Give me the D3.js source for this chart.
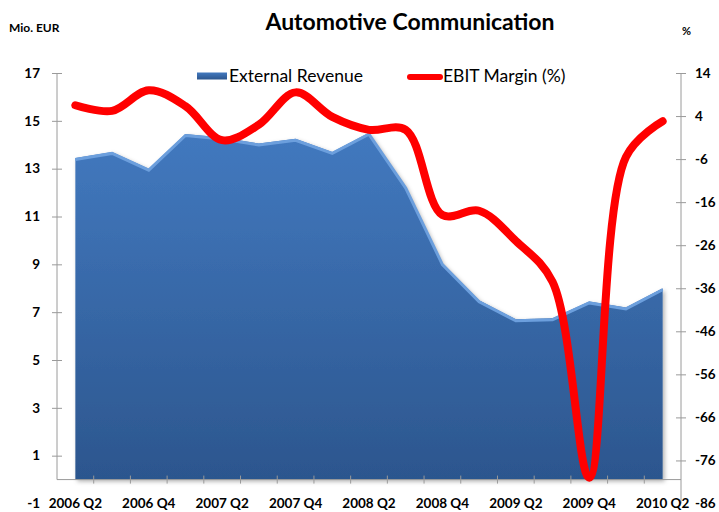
<!DOCTYPE html>
<html>
<head>
<meta charset="utf-8">
<script src="https://cdn.jsdelivr.net/npm/d3@7"></script>
<style>
  body { margin: 0; background: #fff; }
  #graf { width: 719px; height: 512px; }
  text { font-family: Lato, 'Liberation Sans', sans-serif; fill: #000; }
  .tick-lbl { font-size: 13.5px; font-weight: bold; }
</style>
</head>
<body>
<div id="graf"></div>
<script>
// I. Datos

quarters = ['2006 Q2', '2006 Q3', '2006 Q4', '2007 Q1', '2007 Q2', '2007 Q3', '2007 Q4', '2008 Q1',
            '2008 Q2', '2008 Q3', '2008 Q4', '2009 Q1', '2009 Q2', '2009 Q3', '2009 Q4', '2010 Q1', '2010 Q2']

// External Revenue (Mio. EUR)
revenue = [13.45, 13.7, 13.0, 14.45, 14.3, 14.05, 14.25, 13.7, 14.5, 12.25, 9.05, 7.5, 6.7, 6.75, 7.45, 7.2, 8.0]

// EBIT Margin (%)
ebit = [6.5, 5.2, 10.0, 6.3, -1.6, 2.0, 9.5, 3.8, 0.8, 0.8, -19, -18, -25, -34.5, -80, -5.5, 2.8]

leftTicks = [-1, 1, 3, 5, 7, 9, 11, 13, 15, 17]
rightTicks = [-86, -76, -66, -56, -46, -36, -26, -16, -6, 4, 14]

// II. Configuracion

ancho_total = 719
alto_total = 512

svg = d3.select('#graf').append('svg')
        .attr('width', ancho_total)
        .attr('height', alto_total)

plot = { left: 57, right: 681, top: 73, bottom: 503.5 }

x = d3.scaleBand()
        .domain(quarters)
        .range([plot.left, plot.right])

cx = d => x(d) + x.bandwidth() / 2

yL = d3.scaleLinear()
        .domain([-1, 17])
        .range([plot.bottom, plot.top])

yR = d3.scaleLinear()
        .domain([-86, 14])
        .range([plot.bottom, plot.top])

defs = svg.append('defs')
grad = defs.append('linearGradient')
        .attr('id', 'areaGrad')
        .attr('x1', 0).attr('y1', 0).attr('x2', 0).attr('y2', 1)
grad.append('stop').attr('offset', '0%').attr('stop-color', '#4279bf')
grad.append('stop').attr('offset', '100%').attr('stop-color', '#2c568e')

shadow = defs.append('filter').attr('id', 'sombra')
        .attr('x', '-5%').attr('y', '-5%').attr('width', '115%').attr('height', '115%')
shadow.append('feDropShadow')
        .attr('dx', 2).attr('dy', 2).attr('stdDeviation', 2)
        .attr('flood-color', '#000').attr('flood-opacity', 0.3)

// III. Render

data = quarters.map((q, i) => ({ q: q, rev: revenue[i], ebit: ebit[i] }))

area = d3.area()
        .x(d => cx(d.q))
        .y0(yL(0))
        .y1(d => yL(d.rev))

svg.append('path')
        .datum(data)
        .attr('d', area)
        .attr('fill', 'url(#areaGrad)')
        .attr('filter', 'url(#sombra)')

// borde claro de la superficie
svg.append('path')
        .datum(data)
        .attr('d', d3.line().x(d => cx(d.q)).y(d => yL(d.rev) + 1.5))
        .attr('fill', 'none')
        .attr('stroke', '#6c9fdd')
        .attr('stroke-width', 3)

// ejes
axisColor = '#9a9a9a'
fmt = d => String(d)

leftAxis = svg.append('g')
        .attr('transform', `translate(${plot.left}, 0)`)
        .call(d3.axisLeft(yL).tickValues(leftTicks).tickFormat(fmt).tickSize(5).tickPadding(12))
leftAxis.select('.domain').remove()
leftAxis.selectAll('.tick line').attr('x1', -5).attr('x2', 5).attr('stroke', axisColor)
        .filter(d => d === -1).remove()
leftAxis.selectAll('.tick text').attr('class', 'tick-lbl').attr('font-family', null).attr('font-size', null)
leftAxis.append('line')
        .attr('y1', yL(17)).attr('y2', yL(0))
        .attr('stroke', axisColor)

rightAxis = svg.append('g')
        .attr('transform', `translate(${plot.right}, 0)`)
        .call(d3.axisRight(yR).tickValues(rightTicks).tickFormat(fmt).tickSize(5).tickPadding(9))
rightAxis.select('.domain').remove()
rightAxis.selectAll('.tick line').attr('x1', -5).attr('x2', 5).attr('stroke', axisColor)
        .filter(d => d === -86).remove()
rightAxis.selectAll('.tick text').attr('class', 'tick-lbl').attr('font-family', null).attr('font-size', null)
rightAxis.append('line')
        .attr('y1', yR(14)).attr('y2', yR(-86))
        .attr('stroke', axisColor)

xAxis = svg.append('g')
        .attr('transform', `translate(0, ${yL(0)})`)
xAxis.append('line')
        .attr('x1', plot.left).attr('x2', plot.right)
        .attr('stroke', axisColor)
xAxis.selectAll('.xt')
        .data(quarters.slice(1))
        .enter().append('line')
        .attr('x1', d => x(d)).attr('x2', d => x(d))
        .attr('y1', -4).attr('y2', 4)
        .attr('stroke', axisColor)

svg.selectAll('.xlbl')
        .data(quarters.filter((q, i) => i % 2 === 0))
        .enter().append('text')
        .attr('class', 'tick-lbl')
        .attr('x', d => cx(d))
        .attr('y', plot.bottom)
        .attr('dy', '0.32em')
        .attr('text-anchor', 'middle')
        .text(d => d)

// linea EBIT
svg.append('path')
        .datum(data)
        .attr('d', d3.line().x(d => cx(d.q)).y(d => yR(d.ebit)).curve(d3.curveCatmullRom.alpha(0.5)))
        .attr('fill', 'none')
        .attr('stroke', '#ff0000')
        .attr('stroke-width', 8)
        .attr('stroke-linecap', 'round')
        .attr('stroke-linejoin', 'round')

// titulos
svg.append('text')
        .attr('x', 410).attr('y', 30)
        .attr('text-anchor', 'middle')
        .style('font-size', '23px').style('font-weight', 'bold')
        .text('Automotive Communication')

svg.append('text')
        .attr('x', 9).attr('y', 32)
        .style('font-size', '12px').style('font-weight', 'bold')
        .text('Mio. EUR')

svg.append('text')
        .attr('x', 682).attr('y', 35)
        .style('font-size', '11px').style('font-weight', 'bold')
        .text('%')

// leyenda
legend = svg.append('g')
legend.append('rect')
        .attr('x', 197).attr('y', 72.5).attr('width', 30).attr('height', 7)
        .attr('fill', 'url(#areaGrad)')
legend.append('text')
        .attr('x', 229).attr('y', 82)
        .style('font-size', '17.5px')
        .text('External Revenue')
legend.append('line')
        .attr('x1', 410).attr('x2', 440).attr('y1', 77).attr('y2', 77)
        .attr('stroke', '#ff0000').attr('stroke-width', 6).attr('stroke-linecap', 'round')
legend.append('text')
        .attr('x', 443).attr('y', 82)
        .style('font-size', '17.5px')
        .text('EBIT Margin (%)')
</script>
</body>
</html>
